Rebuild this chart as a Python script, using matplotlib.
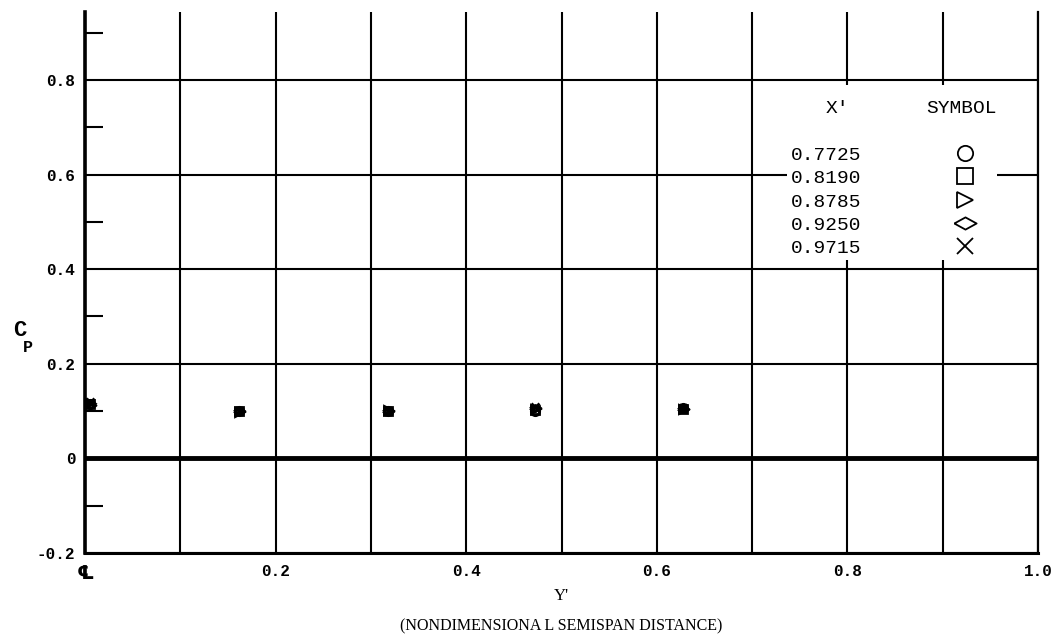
import matplotlib
matplotlib.use("Agg")
import matplotlib.pyplot as plt
from matplotlib.lines import Line2D
from matplotlib.patches import Rectangle
from matplotlib.ticker import FixedLocator, FixedFormatter

# ---------------- data ----------------
y_prime = [0.005, 0.162, 0.318, 0.472, 0.628]          # nondimensional semispan stations
x_prime_labels = ["0.7725", "0.8190", "0.8785", "0.9250", "0.9715"]
cp_07725 = [0.116, 0.100, 0.101, 0.100, 0.106]
cp_08190 = [0.114, 0.101, 0.100, 0.102, 0.104]
cp_08785 = [0.118, 0.099, 0.102, 0.104, 0.105]
cp_09250 = [0.112, 0.100, 0.100, 0.106, 0.104]
cp_09715 = [0.120, 0.101, 0.101, 0.108, 0.106]
series = [cp_07725, cp_08190, cp_08785, cp_09250, cp_09715]

x_grid = [0.0, 0.1, 0.2, 0.3, 0.4, 0.5, 0.6, 0.7, 0.8, 0.9, 1.0]
x_tick_labels = ["\u2104", "", "0.2", "", "0.4", "", "0.6", "", "0.8", "", "1.0"]
y_grid = [-0.2, 0.0, 0.2, 0.4, 0.6, 0.8]
y_tick_labels = ["-0.2", "0", "0.2", "0.4", "0.6", "0.8"]
y_minor = [-0.1, 0.1, 0.3, 0.5, 0.7, 0.9]

# wide diamond marker
wide_diamond = [(-1.0, 0.0), (0.0, 0.55), (1.0, 0.0), (0.0, -0.55), (-1.0, 0.0)]
markers = ["o", "s", ">", wide_diamond, "x"]
legend_marker_sizes = [11, 11, 11, 16, 11]
data_marker_sizes = [6, 5.5, 6, 8, 6]

mono = ["Liberation Mono", "DejaVu Sans Mono"]
serif = ["Liberation Serif", "DejaVu Serif"]

fig = plt.figure(figsize=(10.61, 6.40), dpi=100)
ax = fig.add_axes([85 / 1061, 87 / 640, 953 / 1061, 541 / 640])
ax.set_xlim(0.0, 1.0)
ax.set_ylim(-0.2, 0.9437)

# grid
ax.xaxis.set_major_locator(FixedLocator(x_grid))
ax.xaxis.set_major_formatter(FixedFormatter(x_tick_labels))
ax.yaxis.set_major_locator(FixedLocator(y_grid))
ax.yaxis.set_major_formatter(FixedFormatter(y_tick_labels))
ax.yaxis.set_minor_locator(FixedLocator(y_minor))
ax.grid(True, which="major", color="black", linewidth=1.5)
ax.set_axisbelow(True)
ax.tick_params(axis="x", which="major", length=0, pad=8, labelsize=11.5)
ax.tick_params(axis="y", which="major", length=0, pad=7, labelsize=11.5)
ax.tick_params(axis="y", which="minor", direction="in", length=13, width=1.5, left=True)
for lab in ax.get_xticklabels() + ax.get_yticklabels():
    lab.set_family(mono)
    lab.set_fontweight("bold")
ax.get_xticklabels()[0].set_family(["DejaVu Sans"])
ax.get_xticklabels()[0].set_fontweight("bold")
ax.get_xticklabels()[0].set_fontsize(14)

ax.axhline(0.0, color="black", linewidth=3.5, zorder=1.6)

ax.spines["top"].set_visible(False)
ax.spines["left"].set_linewidth(2.6)
ax.spines["bottom"].set_linewidth(2.2)
ax.spines["right"].set_linewidth(1.6)

# data
for vals, m, ms in zip(series, markers, data_marker_sizes):
    ax.plot(y_prime, vals, linestyle="none", marker=m, markersize=ms,
            markerfacecolor="none", markeredgecolor="black", markeredgewidth=2.0,
            color="black", zorder=4, clip_on=False)

# legend area (white box over grid)
ax.add_patch(Rectangle((0.7366, 0.419), 0.2204, 0.370, facecolor="white",
                       edgecolor="none", zorder=2.5))
ax.text(0.789, 0.739, "X'", family=mono, fontsize=14, ha="center", va="center", zorder=6)
ax.text(0.920, 0.739, "SYMBOL", family=mono, fontsize=14, ha="center", va="center", zorder=6)

handles = [Line2D([], [], linestyle="none", marker=m, markersize=s,
                  markerfacecolor="none", markeredgecolor="black", markeredgewidth=1.3)
           for m, s in zip(markers, legend_marker_sizes)]
leg = ax.legend(handles, x_prime_labels, loc="upper left",
                bbox_to_anchor=(0.741, 0.6595), bbox_transform=ax.transData,
                frameon=False, markerfirst=False, borderpad=0, borderaxespad=0,
                handlelength=2.0, handletextpad=4.3, labelspacing=0.29,
                prop={"family": mono, "size": 14})
leg.set_zorder(6)

# axis labels
fig.text(20 / 1061, 1 - 330 / 640, "C", family=mono, fontweight="bold", fontsize=16,
         ha="center", va="center")
fig.text(28 / 1061, 1 - 348 / 640, "P", family=mono, fontweight="bold", fontsize=12,
         ha="center", va="center")
fig.text(561 / 1061, 1 - 596 / 640, "Y'", family=serif, fontsize=12, ha="center", va="center")
fig.text(561 / 1061, 1 - 626 / 640, "(NONDIMENSIONA L SEMISPAN DISTANCE)", family=serif,
         fontsize=11.5, ha="center", va="center")

fig.savefig("out.png", dpi=100)
